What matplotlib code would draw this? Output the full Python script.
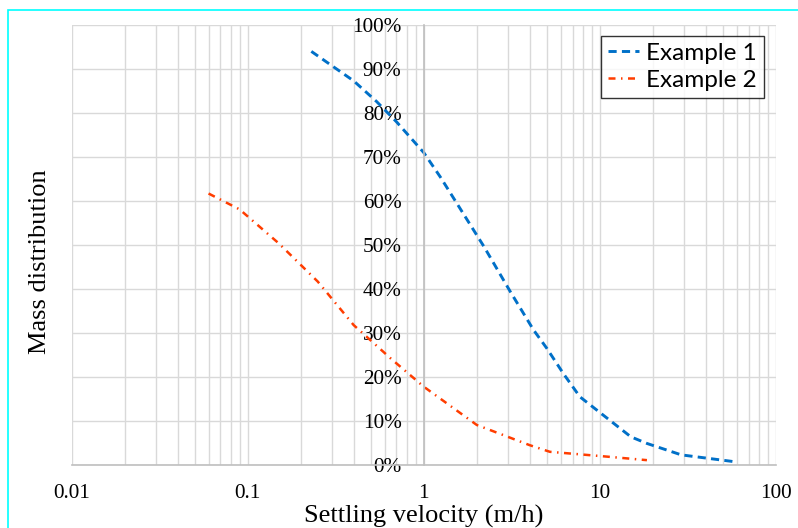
import matplotlib
matplotlib.use("Agg")
import matplotlib.pyplot as plt
from matplotlib.ticker import LogLocator, FixedLocator, FuncFormatter, NullFormatter
from matplotlib.patches import Rectangle

# Data
ex1_x = [0.23, 0.4, 0.54, 0.7, 1.0, 1.24, 2.2, 3.1, 4.2, 5.0, 6.2, 7.7, 15, 18.5, 29, 58]
ex1_y = [94.0, 87.3, 82.6, 78.0, 71.0, 65.5, 49.6, 39.4, 30.7, 26.5, 20.8, 15.5, 6.4, 4.9, 2.3, 0.75]
ex2_x = [0.06, 0.09, 0.15, 0.25, 0.4, 0.65, 1.0, 2.0, 4.0, 5.2, 11, 18.5]
ex2_y = [61.7, 58.1, 50.4, 41.7, 31.8, 24.2, 17.8, 9.1, 4.5, 3.0, 1.9, 1.1]
series_labels = ["Example 1", "Example 2"]
x_ticks = [0.01, 0.1, 1, 10, 100]
x_tick_labels = ["0.01", "0.1", "1", "10", "100"]
y_ticks = [0, 10, 20, 30, 40, 50, 60, 70, 80, 90, 100]

W, H = 798, 528
fig = plt.figure(figsize=(W / 100, H / 100), dpi=100)
ax = fig.add_axes([71.5 / W, 1 - 465 / H, (776 - 71.5) / W, (465 - 25) / H])

serif = ["Liberation Serif", "DejaVu Serif"]

ax.plot(ex1_x, ex1_y, color="#0070C8", lw=2.1, linestyle=(0, (2.8, 1.8)), label=series_labels[0])
ax.plot(ex2_x, ex2_y, color="#FF3D00", lw=1.8, linestyle=(0, (2.8, 2.2, 0.6, 2.2)), label=series_labels[1])

ax.set_xscale("log")
ax.set_xlim(0.01, 100)
ax.set_ylim(0, 100)
ax.xaxis.set_major_locator(FixedLocator(x_ticks))
ax.set_xticklabels(x_tick_labels)
ax.xaxis.set_minor_locator(LogLocator(base=10, subs=range(2, 10)))
ax.xaxis.set_minor_formatter(NullFormatter())
ax.yaxis.set_major_locator(FixedLocator(y_ticks))
ax.yaxis.set_major_formatter(FuncFormatter(lambda v, p: f"{v:.0f}%"))

ax.grid(True, which="major", color="#d9d9d9", lw=1.0)
ax.grid(True, which="minor", axis="x", color="#d9d9d9", lw=1.0)
ax.set_axisbelow(True)

for s in ["top", "right"]:
    ax.spines[s].set_visible(False)
ax.spines["left"].set_position(("data", 1))
ax.spines["left"].set_color("#bfbfbf")
ax.spines["left"].set_linewidth(1.2)
ax.spines["bottom"].set_color("#bfbfbf")
ax.spines["bottom"].set_linewidth(1.2)

ax.tick_params(axis="both", which="both", length=0)
ax.tick_params(axis="y", pad=16)
ax.tick_params(axis="x", pad=14)
for lab in ax.get_xticklabels() + ax.get_yticklabels():
    lab.set_fontfamily(serif)
    lab.set_fontsize(15.3)

fig.text(424 / W, 1 - 516 / H, "Settling velocity (m/h)", ha="center", va="center",
         fontsize=19, family=serif)
fig.text(40 / W, 1 - 262 / H, "Mass distribution", ha="center", va="center",
         rotation=90, fontsize=19, family=serif)

leg = ax.legend(loc="upper right", bbox_to_anchor=(764 / W, 1 - 35.5 / H),
                bbox_transform=fig.transFigure,
                prop={"family": ["Lato", "DejaVu Sans"], "size": 17.5},
                frameon=True, fancybox=False, handlelength=1.25, handletextpad=0.3,
                borderpad=0.3, labelspacing=0.25, borderaxespad=0)
leg.get_frame().set_edgecolor("black")
leg.get_frame().set_linewidth(1.0)

fig.patches.append(Rectangle((8 / W, -0.1), 1.2, (1 - 10 / H) + 0.1, transform=fig.transFigure,
                             fill=False, edgecolor="#00FFFF", lw=1.2))

fig.savefig("out.png", dpi=100)
